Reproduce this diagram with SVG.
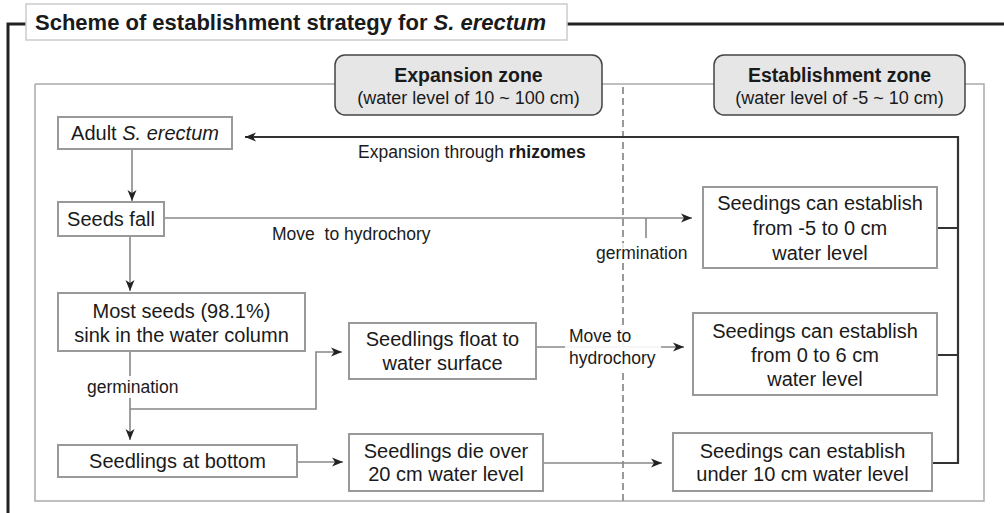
<svg xmlns="http://www.w3.org/2000/svg" width="1004" height="513" viewBox="0 0 1004 513">
<defs>
<marker id="ah" markerUnits="userSpaceOnUse" markerWidth="12" markerHeight="10" refX="11" refY="5" orient="auto">
<path d="M0,0.5 L11,5 L0,9.5 L3,5 z" fill="#222"/>
</marker>
<style>
.t{font-family:"Liberation Sans",Arial,sans-serif;fill:#1a1a1a}
.box{font-size:20px;text-anchor:middle}
.lbl{font-size:17.5px}
.node rect{fill:#fff;stroke:#999;stroke-width:2}
.zone rect{fill:#e6e6e6;stroke:#444;stroke-width:1.5}
.c{fill:none;stroke:#888;stroke-width:1.6}
.d{fill:none;stroke:#333;stroke-width:2.2}
</style>
</defs>
<rect width="1004" height="513" fill="#fff"/>
<g id="frame">
<path d="M8,513 V24 H26 M567,24 H1004" fill="none" stroke="#222" stroke-width="3"/>
<path d="M35,84 V501 H984 V84 H965 M714,84 H602 M335,84 H35" fill="none" stroke="#aaa" stroke-width="1.5"/>
<line x1="623" y1="87" x2="623" y2="501" stroke="#999" stroke-width="2" stroke-dasharray="7,4"/>
</g>
<g id="title">
<rect x="26" y="4" width="541" height="36" fill="#fff" stroke="#ccc" stroke-width="1.5"/>
<text class="t" x="35" y="30" font-size="22" font-weight="bold">Scheme of establishment strategy for <tspan font-style="italic">S. erectum</tspan></text>
</g>
<g id="zone-expansion" class="zone">
<rect x="335" y="55" width="267" height="60" rx="10"/>
<text class="t" x="468.5" y="82" font-size="19.5" font-weight="bold" text-anchor="middle">Expansion zone</text>
<text class="t" x="468.5" y="104" font-size="18" text-anchor="middle">(water level of 10 ~ 100 cm)</text>
</g>
<g id="zone-establishment" class="zone">
<rect x="714" y="55" width="251" height="60" rx="10"/>
<text class="t" x="839.5" y="82" font-size="19.5" font-weight="bold" text-anchor="middle">Establishment zone</text>
<text class="t" x="839.5" y="104" font-size="18" text-anchor="middle">(water level of -5 ~ 10 cm)</text>
</g>
<g id="connectors">
<path class="d" d="M958,137 H245" marker-end="url(#ah)"/>
<path class="d" d="M958,136 V464 M937,228 H958 M937,355 H958 M932,463 H958"/>
<path class="c" d="M132,149 V201" marker-end="url(#ah)"/>
<path class="c" d="M164,218 H692" marker-end="url(#ah)"/>
<path class="c" d="M646,218 V238"/>
<path class="c" d="M130,236 V291" marker-end="url(#ah)"/>
<path class="c" d="M130,351 V440" marker-end="url(#ah)"/>
<path class="c" d="M130,409 H316 V352 H342" marker-end="url(#ah)"/>
<path class="c" d="M536,347 H684" marker-end="url(#ah)"/>
<path class="c" d="M297,462 H343" marker-end="url(#ah)"/>
<path class="c" d="M543,463 H662" marker-end="url(#ah)"/>
</g>
<g id="labels">
<text class="t lbl" x="358" y="158">Expansion through <tspan font-weight="bold">rhizomes</tspan></text>
<text class="t lbl" x="272" y="240" xml:space="preserve">Move  to hydrochory</text>
<rect x="594" y="243" width="96" height="20" fill="#fff" fill-opacity="0.75"/>
<text class="t lbl" x="596" y="259">germination</text>
<rect x="86" y="376" width="96" height="22" fill="#fff" fill-opacity="0.9"/>
<text class="t lbl" x="87" y="393">germination</text>
<rect x="565" y="326" width="96" height="44" fill="#fff" fill-opacity="0.9"/>
<text class="t lbl" x="569" y="342">Move to</text>
<text class="t lbl" x="569" y="364">hydrochory</text>
</g>
<g id="n-adult" class="node">
<rect x="58" y="117" width="174" height="32"/>
<text class="t box" x="145" y="140">Adult <tspan font-style="italic">S. erectum</tspan></text>
</g>
<g id="n-seeds" class="node">
<rect x="58" y="202" width="106" height="34"/>
<text class="t box" x="111" y="226">Seeds fall</text>
</g>
<g id="n-sink" class="node">
<rect x="58" y="293" width="247" height="58"/>
<text class="t box" x="181.5" y="318">Most seeds (98.1%)</text>
<text class="t box" x="181.5" y="342">sink in the water column</text>
</g>
<g id="n-bottom" class="node">
<rect x="58" y="445" width="239" height="32"/>
<text class="t box" x="177.5" y="468">Seedlings at bottom</text>
</g>
<g id="n-float" class="node">
<rect x="349" y="323" width="187" height="56"/>
<text class="t box" x="442.5" y="346">Seedlings float to</text>
<text class="t box" x="442.5" y="370">water surface</text>
</g>
<g id="n-die" class="node">
<rect x="349" y="434" width="194" height="57"/>
<text class="t box" x="446" y="458">Seedlings die over</text>
<text class="t box" x="446" y="481">20 cm water level</text>
</g>
<g id="n-est1" class="node">
<rect x="703" y="187" width="234" height="81"/>
<text class="t box" x="820" y="210">Seedings can establish</text>
<text class="t box" x="820" y="235">from -5 to 0 cm</text>
<text class="t box" x="820" y="260">water level</text>
</g>
<g id="n-est2" class="node">
<rect x="693" y="313" width="244" height="82"/>
<text class="t box" x="815" y="338">Seedings can establish</text>
<text class="t box" x="815" y="362">from 0 to 6 cm</text>
<text class="t box" x="815" y="386">water level</text>
</g>
<g id="n-est3" class="node">
<rect x="673" y="433" width="259" height="58"/>
<text class="t box" x="802.5" y="458">Seedings can establish</text>
<text class="t box" x="802.5" y="481">under 10 cm water level</text>
</g>
</svg>
